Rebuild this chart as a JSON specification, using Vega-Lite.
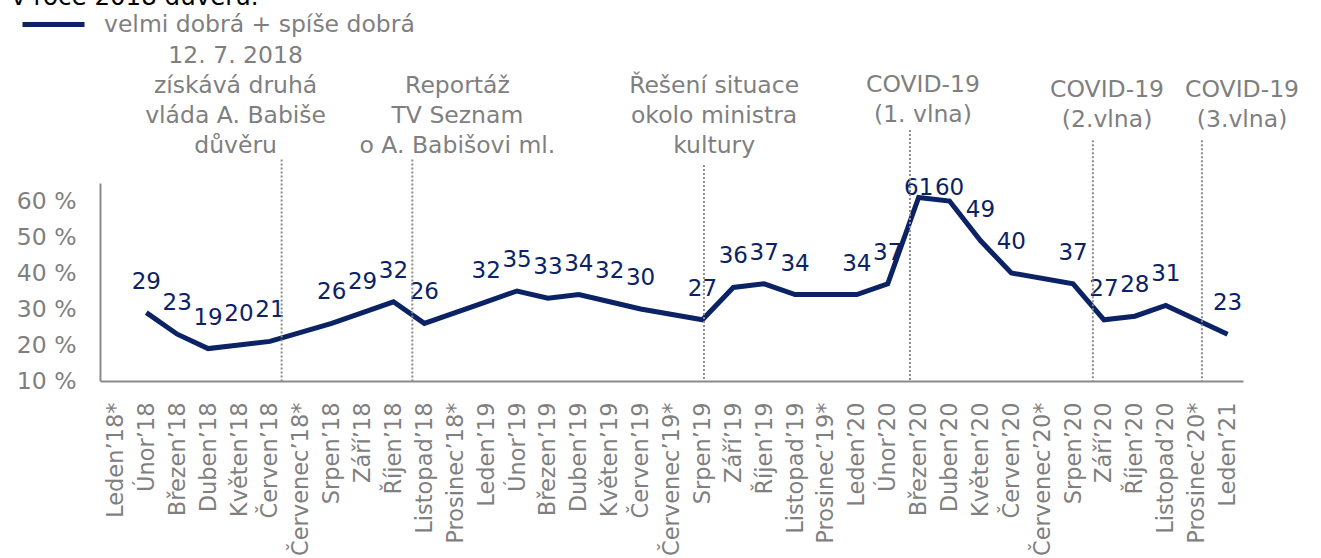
{
  "$schema": "https://vega.github.io/schema/vega-lite/v6.json",
  "width": 1143,
  "height": 198,
  "autosize": {"type": "none"},
  "padding": {"left": 100, "top": 183, "right": 78, "bottom": 177},
  "background": "white",
  "title": {
    "text": "v roce 2018 důvěru.",
    "anchor": "start",
    "frame": "bounds",
    "fontSize": 24.5,
    "fontWeight": "normal",
    "color": "#000000",
    "font": "DejaVu Sans",
    "offset": 0,
    "baseline": "alphabetic",
    "dy": 38,
    "dx": -5
  },
  "config": {
    "view": {"stroke": null},
    "font": "DejaVu Sans",
    "axis": {"grid": false}
  },
  "layer": [
    {
      "data": {
        "values": [
          {"m": "Leden’18*", "v": null, "s": "velmi dobrá + spíše dobrá"},
          {"m": "Únor’18", "v": 29, "s": "velmi dobrá + spíše dobrá"},
          {"m": "Březen’18", "v": 23, "s": "velmi dobrá + spíše dobrá"},
          {"m": "Duben’18", "v": 19, "s": "velmi dobrá + spíše dobrá"},
          {"m": "Květen’18", "v": 20, "s": "velmi dobrá + spíše dobrá"},
          {"m": "Červen’18", "v": 21, "s": "velmi dobrá + spíše dobrá"},
          {"m": "Červenec’18*", "v": null, "s": "velmi dobrá + spíše dobrá"},
          {"m": "Srpen’18", "v": 26, "s": "velmi dobrá + spíše dobrá"},
          {"m": "Září’18", "v": 29, "s": "velmi dobrá + spíše dobrá"},
          {"m": "Říjen’18", "v": 32, "s": "velmi dobrá + spíše dobrá"},
          {"m": "Listopad’18", "v": 26, "s": "velmi dobrá + spíše dobrá"},
          {"m": "Prosinec’18*", "v": null, "s": "velmi dobrá + spíše dobrá"},
          {"m": "Leden’19", "v": 32, "s": "velmi dobrá + spíše dobrá"},
          {"m": "Únor’19", "v": 35, "s": "velmi dobrá + spíše dobrá"},
          {"m": "Březen’19", "v": 33, "s": "velmi dobrá + spíše dobrá"},
          {"m": "Duben’19", "v": 34, "s": "velmi dobrá + spíše dobrá"},
          {"m": "Květen’19", "v": 32, "s": "velmi dobrá + spíše dobrá"},
          {"m": "Červen’19", "v": 30, "s": "velmi dobrá + spíše dobrá"},
          {"m": "Červenec’19*", "v": null, "s": "velmi dobrá + spíše dobrá"},
          {"m": "Srpen’19", "v": 27, "s": "velmi dobrá + spíše dobrá"},
          {"m": "Září’19", "v": 36, "s": "velmi dobrá + spíše dobrá"},
          {"m": "Říjen’19", "v": 37, "s": "velmi dobrá + spíše dobrá"},
          {"m": "Listopad’19", "v": 34, "s": "velmi dobrá + spíše dobrá"},
          {"m": "Prosinec’19*", "v": null, "s": "velmi dobrá + spíše dobrá"},
          {"m": "Leden’20", "v": 34, "s": "velmi dobrá + spíše dobrá"},
          {"m": "Únor’20", "v": 37, "s": "velmi dobrá + spíše dobrá"},
          {"m": "Březen’20", "v": 61, "s": "velmi dobrá + spíše dobrá"},
          {"m": "Duben’20", "v": 60, "s": "velmi dobrá + spíše dobrá"},
          {"m": "Květen’20", "v": 49, "s": "velmi dobrá + spíše dobrá"},
          {"m": "Červen’20", "v": 40, "s": "velmi dobrá + spíše dobrá"},
          {"m": "Červenec’20*", "v": null, "s": "velmi dobrá + spíše dobrá"},
          {"m": "Srpen’20", "v": 37, "s": "velmi dobrá + spíše dobrá"},
          {"m": "Září’20", "v": 27, "s": "velmi dobrá + spíše dobrá"},
          {"m": "Říjen’20", "v": 28, "s": "velmi dobrá + spíše dobrá"},
          {"m": "Listopad’20", "v": 31, "s": "velmi dobrá + spíše dobrá"},
          {"m": "Prosinec’20*", "v": null, "s": "velmi dobrá + spíše dobrá"},
          {"m": "Leden’21", "v": 23, "s": "velmi dobrá + spíše dobrá"}
        ]
      },
      "layer": [
        {
          "mark": {"type": "tick", "opacity": 0},
          "encoding": {
            "x": {
              "field": "m",
              "type": "ordinal",
              "sort": null,
              "scale": {"type": "point", "padding": 0.5},
              "axis": {
                "title": null,
                "domain": true,
                "domainColor": "#8a8a8a",
                "domainWidth": 2,
                "ticks": false,
                "tickSize": 0,
                "labelAngle": -90,
                "labelFontSize": 22.5,
                "labelColor": "#7f7f7f",
                "labelPadding": 21,
                "labelLimit": 0,
                "labelOverlap": false,
                "labelBound": false,
                "labelFlush": false
              }
            }
          }
        },
        {
          "transform": [{"filter": "datum.v != null"}],
          "mark": {"type": "line", "strokeWidth": 5, "strokeJoin": "miter"},
          "encoding": {
            "x": {"field": "m", "type": "ordinal", "sort": null},
            "y": {
              "field": "v",
              "type": "quantitative",
              "scale": {"domain": [10, 65], "nice": false, "zero": false},
              "axis": {
                "title": null,
                "values": [10, 20, 30, 40, 50, 60],
                "labelExpr": "datum.value + ' %'",
                "domain": true,
                "domainColor": "#8a8a8a",
                "domainWidth": 2,
                "ticks": false,
                "tickSize": 0,
                "labelPadding": 24,
                "labelFontSize": 23.5,
                "labelColor": "#7f7f7f",
                "labelBaseline": "middle"
              }
            },
            "color": {
              "field": "s",
              "type": "nominal",
              "scale": {"range": ["#0b2264"]},
              "legend": {
                "title": null,
                "orient": "none",
                "legendX": -80,
                "legendY": -192,
                "symbolType": "stroke",
                "symbolSize": 3844,
                "symbolStrokeWidth": 5,
                "labelFontSize": 23.5,
                "labelColor": "#7f7f7f",
                "labelOffset": 17,
                "labelLimit": 0,
                "padding": 0
              }
            }
          }
        },
        {
          "transform": [{"filter": "datum.v != null"}],
          "mark": {"type": "text", "fontSize": 23, "color": "#0b2264", "baseline": "middle", "align": "center", "dy": 5},
          "encoding": {
            "x": {"field": "m", "type": "ordinal", "sort": null},
            "y": {
              "field": "v",
              "type": "quantitative",
              "scale": {"domain": [0, 55], "nice": false, "zero": false, "clamp": true},
              "axis": null
            },
            "text": {"field": "v", "type": "quantitative"}
          }
        }
      ],
      "resolve": {"scale": {"y": "independent"}}
    },
    {
      "data": {
        "values": [
          {"x": 5.38, "top": 71.5, "tx": 3.89, "ty": 98.2, "label": "12. 7. 2018\nzískává druhá\nvláda A. Babiše\ndůvěru"},
          {"x": 9.61, "top": 71.5, "tx": 11.07, "ty": 89.9, "label": "Reportáž\nTV Seznam\no A. Babišovi ml."},
          {"x": 19.05, "top": 70, "tx": 19.38, "ty": 89.9, "label": "Řešení situace\nokolo ministra\nkultury"},
          {"x": 25.72, "top": 79.7, "tx": 26.14, "ty": 90.3, "label": "COVID-19\n(1. vlna)"},
          {"x": 31.64, "top": 76.9, "tx": 32.1, "ty": 88.9, "label": "COVID-19\n(2.vlna)"},
          {"x": 35.17, "top": 76.9, "tx": 36.47, "ty": 88.9, "label": "COVID-19\n(3.vlna)"}
        ]
      },
      "layer": [
        {
          "mark": {"type": "rule", "color": "#8c8c8c", "strokeWidth": 2, "strokeDash": [2, 2]},
          "encoding": {
            "x": {"field": "x", "type": "quantitative", "scale": {"domain": [-0.5, 36.5], "nice": false, "zero": false}, "axis": null},
            "y": {"field": "top", "type": "quantitative", "scale": {"domain": [10, 65], "nice": false, "zero": false}, "axis": null},
            "y2": {"datum": 10}
          }
        },
        {
          "mark": {"type": "text", "fontSize": 23.5, "color": "#7f7f7f", "baseline": "alphabetic", "align": "center", "lineBreak": "\n", "lineHeight": 30},
          "encoding": {
            "x": {"field": "tx", "type": "quantitative"},
            "y": {"field": "ty", "type": "quantitative"},
            "text": {"field": "label", "type": "nominal"}
          }
        }
      ]
    }
  ],
  "resolve": {"scale": {"x": "independent", "y": "independent"}}
}
